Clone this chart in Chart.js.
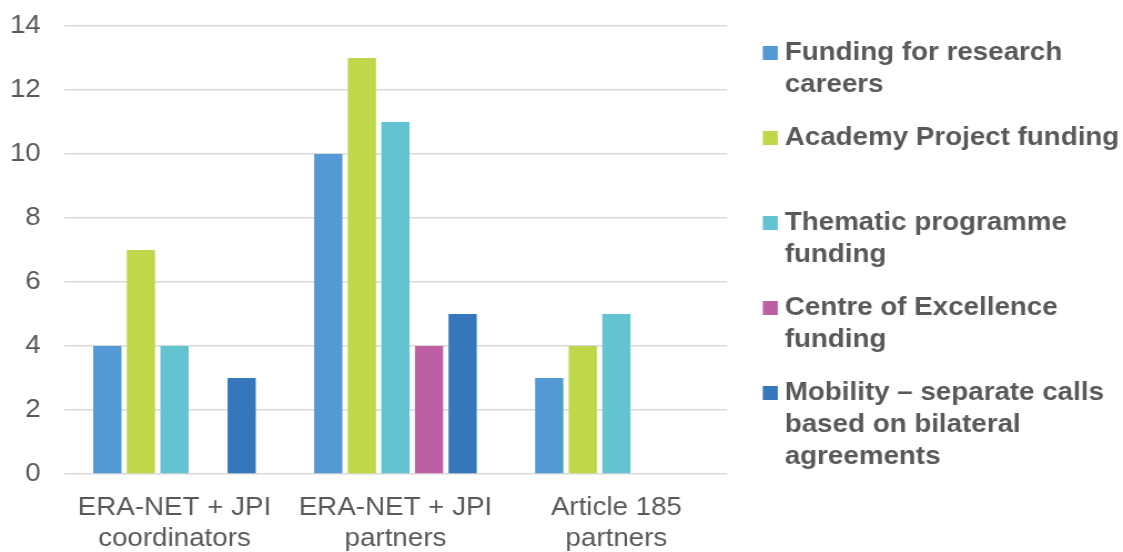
<!DOCTYPE html>
<html>
<head>
<meta charset="utf-8">
<script src="https://cdn.jsdelivr.net/npm/chart.js@4"></script>
<style>
  body { margin: 0; background: #fff; }
</style>
</head>
<body>
<canvas id="chart" width="1012" height="552" style="width:1123px;height:552px;display:block"></canvas>
<script>
const categories = [
  ['ERA-NET + JPI', 'coordinators'],
  ['ERA-NET + JPI', 'partners'],
  ['Article 185', 'partners']
]
const seriesNames = [
  ['Funding for research', 'careers'],
  ['Academy Project funding'],
  ['Thematic programme', 'funding'],
  ['Centre of Excellence', 'funding'],
  ['Mobility – separate calls', 'based on bilateral', 'agreements']
]
const fundingCareers = [4, 10, 3]
const academyProject = [7, 13, 4]
const thematicProgramme = [4, 11, 5]
const centreExcellence = [0, 4, 0]
const mobility = [3, 5, 0]
const yTicks = [0, 2, 4, 6, 8, 10, 12, 14]

const colors = ['#5399D4', '#BFD748', '#64C3D0', '#BD5FA4', '#3676BB']
const values = [fundingCareers, academyProject, thematicProgramme, centreExcellence, mobility]
const textColor = '#595959'
const fontFamily = '"Liberation Sans", Arial, sans-serif'

// legend on the right, drawn by hand so lines wrap like the original
const sideLegend = {
  id: 'sideLegend',
  afterDraw(chart) {
    const ctx = chart.ctx
    ctx.save()
    ctx.font = 'bold 25px ' + fontFamily
    ctx.textBaseline = 'middle'
    ctx.textAlign = 'left'
    chart.data.datasets.forEach((ds, i) => {
      const y = 53 + i * 85
      ctx.fillStyle = ds.backgroundColor
      ctx.fillRect(687.4, y - 7, 13.5, 14)
      ctx.fillStyle = textColor
      seriesNames[i].forEach((line, j) => ctx.fillText(line, 707.2, y + j * 32))
    })
    ctx.restore()
  }
}

let ctx = document.getElementById('chart').getContext('2d')
let chart = new Chart(ctx, {
  type: 'bar',
  data: {
    labels: categories,
    datasets: values.map((v, i) => ({
      label: seriesNames[i].join(' '),
      data: v,
      backgroundColor: colors[i],
      borderWidth: 0,
      categoryPercentage: 0.76,
      barPercentage: 0.84
    }))
  },
  options: {
    responsive: false,
    animation: false,
    devicePixelRatio: 1,
    layout: { padding: { top: 26, right: 357, bottom: 0, left: 0 } },
    plugins: {
      legend: { display: false },
      tooltip: { enabled: false }
    },
    scales: {
      x: {
        afterFit(scale) {
          scale.height = 78
        },
        grid: { display: false },
        border: { display: false },
        ticks: {
          color: textColor,
          font: { family: fontFamily, size: 25, lineHeight: 1.24 },
          padding: 11,
          maxRotation: 0
        }
      },
      y: {
        min: 0,
        max: 14,
        afterBuildTicks(scale) {
          scale.ticks = yTicks.map(v => ({ value: v }))
        },
        afterFit(scale) {
          scale.width = 57.7
          scale.paddingTop = 0
          scale.paddingBottom = 0
        },
        grid: { color: '#D9D9D9', lineWidth: 1.5, drawTicks: false },
        border: { display: false },
        ticks: {
          color: textColor,
          font: { family: fontFamily, size: 25 },
          padding: 21
        }
      }
    }
  },
  plugins: [sideLegend]
})
</script>
</body>
</html>
